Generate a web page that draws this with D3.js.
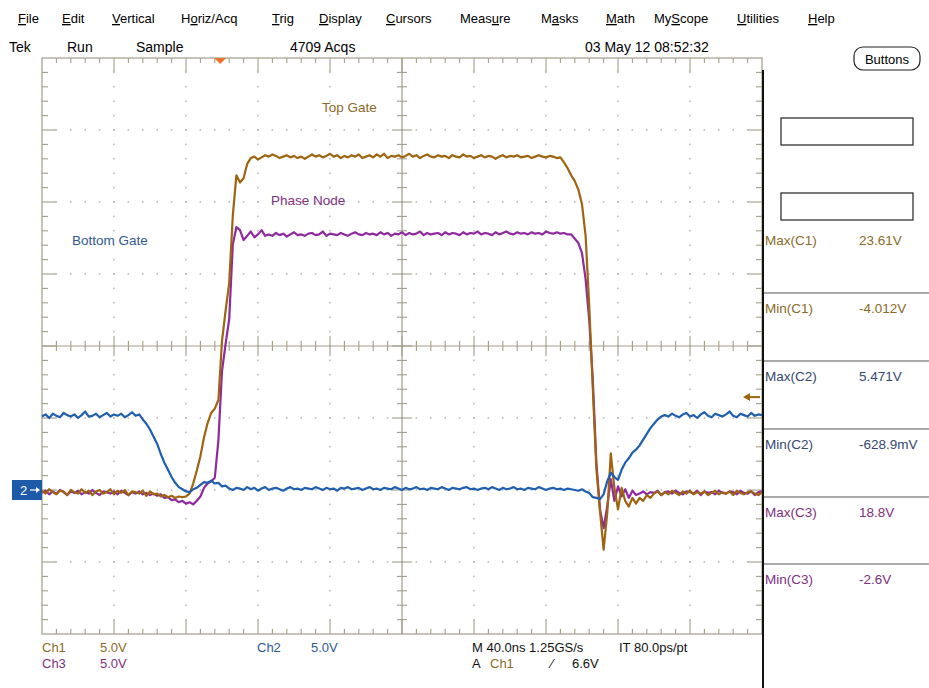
<!DOCTYPE html>
<html><head><meta charset="utf-8">
<script src="https://cdn.jsdelivr.net/npm/d3@7"></script>
<style>
html,body{margin:0;padding:0;background:#fff;}
svg{display:block;}
text{font-family:"Liberation Sans",Arial,sans-serif;}
</style></head><body><svg id="c" width="929" height="688"></svg>
<script>
// ---------------- data ----------------
const menuItems = ["File","Edit","Vertical","Horiz/Acq","Trig","Display","Cursors","Measure","Masks","Math","MyScope","Utilities","Help"];
const menuMnemonic = [0,0,0,1,0,0,0,4,1,0,2,0,0];
const statusTexts = ["Tek","Run","Sample","4709 Acqs","03 May 12 08:52:32"];
const channelNames = ["Ch1","Ch2","Ch3"];
const channelScales = ["5.0V","5.0V","5.0V"];
const traceLabels = ["Top Gate","Bottom Gate","Phase Node"];
const measureNames = ["Max(C1)","Min(C1)","Max(C2)","Min(C2)","Max(C3)","Min(C3)"];
const measureValues = ["23.61V","-4.012V","5.471V","-628.9mV","18.8V","-2.6V"];
const timebaseText = "M 40.0ns 1.25GS/s";
const intervalText = "IT 80.0ps/pt";
const triggerSource = "Ch1";
const triggerLevelV = 6.6;
const timePerDivNs = 40;
const sampleStepNs = 2;   // one value every 2 ns from the left edge

// Ch1 – Top Gate (V)
const ch1 = [
0.1,-0.1,0.2,0,-0.15,0.1,0.05,-0.2,0.15,0,
-0.1,0.2,-0.05,0.1,-0.2,0.05,0.15,-0.1,0,0.2,
-0.15,0.1,-0.05,0.15,-0.2,0.05,0,-0.1,0.1,-0.25,
0.05,-0.15,-0.1,-0.3,-0.2,-0.35,-0.25,-0.4,-0.3,-0.35,
-0.3,-0.1,0.6,1.5,2.5,3.8,4.8,5.5,5.8,6.4,
10.5,12.6,14.5,19.2,22.0,21.5,21.8,22.8,23.2,23.3,
23.1,23.25,23.4,23.3,23.45,23.35,23.2,23.3,23.4,23.25,
23.35,23.2,23.3,23.15,23.3,23.45,23.3,23.4,23.25,23.35,
23.5,23.3,23.4,23.2,23.35,23.25,23.4,23.3,23.45,23.2,
23.3,23.4,23.25,23.45,23.3,23.5,23.2,23.35,23.3,23.4,
23.25,23.35,23.5,23.3,23.4,23.2,23.35,23.45,23.3,23.25,
23.4,23.3,23.35,23.2,23.4,23.3,23.25,23.45,23.3,23.35,
23.2,23.3,23.4,23.25,23.35,23.3,23.15,23.3,23.4,23.25,
23.35,23.3,23.4,23.25,23.3,
23.35,23.2,23.3,23.4,23.3,23.25,23.35,23.3,23.2,23.25,
22.9,22.5,22.0,21.6,21.0,20.0,17.8,13.0,7.2,1.6,
-1.3,-4.0,-1.5,2.7,0.3,-1.2,0.3,-0.6,-1.0,-0.4,
-0.8,-0.4,-0.6,-0.2,-0.4,
-0.1,0.05,-0.2,0,-0.15,0.1,-0.05,-0.2,0.05,-0.1,
0.1,-0.15,0,-0.1,0.05,-0.2,-0.05,0.1,-0.15,0,
-0.1,0.05,-0.2,0.1,-0.05,-0.15,0,0.05,-0.1,-0.2,
0];

// Ch2 – Bottom Gate (V)
const ch2 = [
5.1,5.25,5.0,5.3,5.15,5.05,5.35,5.2,5.1,5.25,
5.0,5.2,5.45,5.1,5.15,5.3,5.05,5.2,5.35,5.1,
5.25,5.15,5.3,5.05,5.2,5.4,5.15,5.25,
4.9,4.6,4.2,3.7,3.2,2.5,1.9,1.4,0.9,0.5,
0.2,0.05,-0.1,-0.15,0.05,0.15,0.35,0.55,0.5,0.65,
0.45,0.5,0.25,0.3,0.1,0.0,0.15,
0.1,0.0,0.2,0.05,0.15,-0.05,0.1,0.2,0.0,0.1,
0.15,0.05,-0.05,0.1,0.2,0.05,0.1,0.0,0.15,0.1,
0.05,0.2,0.1,0.0,0.15,0.05,0.1,-0.05,0.15,0.1,
0.2,0.05,0.1,0.15,0.0,0.1,0.2,0.05,0.1,0.0,
0.15,0.1,0.05,0.2,0.1,0.0,0.15,0.05,0.1,0.2,
0.05,0.1,0.0,0.15,0.1,0.05,0.2,0.1,0.0,0.15,
0.1,0.05,0.15,0.2,0.05,0.1,0.0,0.1,0.15,0.05,
0.2,0.1,0.0,0.15,0.05,0.1,0.2,0.05,0.1,0.0,
0.15,0.1,0.05,0.2,0.1,0.0,0.1,0.15,0.05,0.1,
0.0,0.1,0.05,0.0,-0.05,0.05,-0.1,
-0.2,-0.5,-0.55,-0.63,-0.3,0.6,1.2,0.9,0.7,1.4,
1.9,2.2,2.6,2.8,3.1,3.5,3.9,4.3,4.6,4.9,
5.1,
5.2,5.1,5.3,5.15,5.05,5.25,5.35,5.1,5.2,5.0,
5.25,5.4,5.15,5.05,5.3,5.2,5.1,5.25,5.45,5.15,
5.05,5.3,5.2,5.1,5.35,5.15,5.25,5.2];

// Ch3 – Phase Node (V)
const ch3 = [
-0.05,0.1,-0.15,0.05,-0.1,0.15,0,-0.2,0.05,-0.05,
0.1,-0.15,0,-0.1,0.15,-0.05,-0.2,0.05,0,-0.1,
0.05,-0.15,0.1,-0.05,-0.2,0,-0.1,0.05,-0.15,-0.05,
-0.2,-0.1,-0.25,-0.15,
-0.4,-0.35,-0.55,-0.5,-0.7,-0.6,-0.8,-0.7,-0.85,-0.6,
-0.3,0.3,0.6,0.75,1.0,3.6,8.4,10.3,12.0,17.2,
18.4,18.2,17.5,17.8,18.1,17.7,17.9,18.2,17.8,
17.9,17.8,18.0,17.85,17.95,17.75,17.9,18.05,17.85,17.9,
17.8,17.95,18.0,17.85,17.9,18.1,17.8,17.95,17.9,17.85,
18.0,17.9,17.8,17.95,18.05,17.9,17.85,18.0,17.9,17.95,
17.85,18.05,17.9,18.0,17.8,17.95,17.9,18.05,17.85,18.0,
17.9,17.95,18.1,17.85,18.0,17.9,17.95,18.0,17.85,18.05,
17.9,18.0,17.95,17.85,18.05,17.9,18.0,17.95,18.1,17.9,
18.0,17.95,17.85,18.05,17.9,18.0,18.1,17.95,17.9,18.05,
17.95,18.0,17.9,18.05,17.95,18.0,17.9,18.1,18.0,17.95,
18.05,17.95,18.0,17.9,
17.9,17.6,17.3,16.6,14.8,12.0,7.8,2.0,-1.2,-2.5,
-1.0,0.9,-0.6,0.4,-0.3,0.2,-0.4,0.1,-0.2,
-0.1,0.05,-0.15,0,-0.05,0.1,-0.2,0,0.05,-0.1,
0.1,-0.05,-0.15,0.05,0,-0.1,0.1,-0.2,0.05,-0.05,
0,-0.15,0.1,-0.05,-0.1,0.05,0,-0.15,0.1,-0.05,
-0.1,0.05,-0.2,0,0.05];

// ---------------- layout / style ----------------
const C1 = "#9e6410", C2 = "#1f5fae", C3 = "#8f2a9e";
const T1 = "#8a6a28", T2 = "#2f5a92", T3 = "#80307e", T2m = "#34486e";
const GRID = "#a39d8a";
const svg = d3.select("#c");
const plot = {left:42, right:762, top:58, bottom:634};

const xDiv = d3.scaleLinear().domain([0,10]).range([plot.left, plot.right]);
const yDiv = d3.scaleLinear().domain([-4,4]).range([plot.bottom, plot.top]);
const x = d3.scaleLinear().domain([0, timePerDivNs*10]).range([plot.left, plot.right]);
const channels = [
  {data:ch1, pos:-2.03, vdiv:5, color:C1},
  {data:ch2, pos:-2.0,  vdiv:5, color:C2},
  {data:ch3, pos:-2.03, vdiv:5, color:C3}
];
channels.forEach(c => c.y = d3.scaleLinear().domain([(-4-c.pos)*c.vdiv, (4-c.pos)*c.vdiv]).range([plot.bottom, plot.top]));

// menu
const menuX = [18,62,112,181,272,319,386,460,541,606,654,737,808];
const menu = svg.append("g").attr("font-size",13).attr("fill","#000");
menuItems.forEach((m,i)=>{
  const t = menu.append("text").attr("x",menuX[i]).attr("y",23);
  const k = menuMnemonic[i];
  if(k>0) t.append("tspan").text(m.slice(0,k));
  t.append("tspan").style("text-decoration","underline").text(m[k]);
  t.append("tspan").text(m.slice(k+1));
});

// status row
const statusX = [9,67,136,290,585];
svg.append("g").attr("font-size",14).selectAll("text").data(statusTexts).join("text")
  .attr("x",(d,i)=>statusX[i]).attr("y",52).text(d=>d);

// Buttons
svg.append("rect").attr("x",854).attr("y",47).attr("width",66).attr("height",23).attr("rx",9)
  .attr("fill","#fff").attr("stroke","#222").attr("stroke-width",1.2);
svg.append("text").attr("x",887).attr("y",64).attr("text-anchor","middle").attr("font-size",13).text("Buttons");

// graticule dots
const g = svg.append("g");
const dots = [];
for(let k=1;k<10;k++){ if(k===5) continue; for(let m=1;m<40;m++) dots.push([xDiv(k), yDiv(-4+m/5)]); }
for(let j=-3;j<=3;j++){ if(j===0) continue; for(let n=1;n<50;n++) dots.push([xDiv(n/5), yDiv(j)]); }
g.selectAll("rect.dot").data(dots).join("rect").attr("class","dot")
  .attr("x",d=>d[0]-0.75).attr("y",d=>d[1]-0.75).attr("width",1.5).attr("height",1.5).attr("fill","#b4b2aa");

// border
g.append("rect").attr("x",plot.left).attr("y",plot.top).attr("width",plot.right-plot.left).attr("height",plot.bottom-plot.top)
  .attr("fill","none").attr("stroke",GRID).attr("stroke-width",1.2);
// center lines
g.append("line").attr("x1",xDiv(5)).attr("x2",xDiv(5)).attr("y1",plot.top).attr("y2",plot.bottom).attr("stroke",GRID).attr("stroke-width",1.2);
g.append("line").attr("x1",plot.left).attr("x2",plot.right).attr("y1",yDiv(0)).attr("y2",yDiv(0)).attr("stroke",GRID).attr("stroke-width",1.2);
const ticks = [];
for(let n=1;n<50;n++){
  const major = n%5===0, xx = xDiv(n/5);
  const L = major?14:5, C = major?10:5;
  ticks.push([xx,plot.top,xx,plot.top+L]);
  ticks.push([xx,plot.bottom,xx,plot.bottom-L]);
  ticks.push([xx,yDiv(0)-C,xx,yDiv(0)+C]);
}
for(let m=1;m<40;m++){
  const major = m%5===0, yy = yDiv(-4+m/5);
  const L = major?14:6, C = major?10:5;
  ticks.push([plot.left,yy,plot.left+L,yy]);
  ticks.push([plot.right,yy,plot.right-L,yy]);
  ticks.push([xDiv(5)-C,yy,xDiv(5)+C,yy]);
}
g.selectAll("line.tk").data(ticks).join("line").attr("class","tk")
  .attr("x1",d=>d[0]).attr("y1",d=>d[1]).attr("x2",d=>d[2]).attr("y2",d=>d[3])
  .attr("stroke",GRID).attr("stroke-width",1.1);

// traces (Ch3 first, then Ch1, then Ch2)
const order = [2,0,1];
order.forEach(ci=>{
  const c = channels[ci];
  const line = d3.line().x((d,i)=>x(i*sampleStepNs)).y(d=>c.y(d));
  svg.append("path").attr("d",line(c.data)).attr("fill","none").attr("stroke",c.color)
    .attr("stroke-width",2.2).attr("stroke-linejoin","round");
});

// trace labels
const lab = [[322,112,T1],[72,245,T2],[271,205,T3]];
svg.append("g").attr("font-size",13.5).selectAll("text").data(traceLabels).join("text")
  .attr("x",(d,i)=>lab[i][0]).attr("y",(d,i)=>lab[i][1]).attr("fill",(d,i)=>lab[i][2]).text(d=>d);

// trigger position marker (top)
const trigT = 99;
svg.append("path").attr("d",`M${x(trigT)-6},${plot.top} L${x(trigT)+6},${plot.top} L${x(trigT)},${plot.top+6} Z`).attr("fill","#f0702c");

// trigger level arrow (right)
const ty = channels[0].y(triggerLevelV);
svg.append("line").attr("x1",plot.right-2).attr("x2",plot.right-17).attr("y1",ty).attr("y2",ty).attr("stroke",C1).attr("stroke-width",2);
svg.append("path").attr("d",`M${plot.right-19},${ty} L${plot.right-12},${ty-4} L${plot.right-12},${ty+4} Z`).attr("fill",C1);

// channel 2 ground marker
const gy = channels[1].y(0);
svg.append("rect").attr("x",12).attr("y",gy-10).attr("width",30).attr("height",20).attr("fill","#1d5aa8");
svg.append("text").attr("x",20).attr("y",gy+5).attr("fill","#fff").attr("font-size",13).text("2");
svg.append("line").attr("x1",30).attr("x2",39).attr("y1",gy).attr("y2",gy).attr("stroke","#fff").attr("stroke-width",1.2);
svg.append("path").attr("d",`M${40},${gy} L${36},${gy-3} L${36},${gy+3} Z`).attr("fill","#fff");

// right panel
svg.append("line").attr("x1",763).attr("x2",763).attr("y1",70).attr("y2",688).attr("stroke","#111").attr("stroke-width",2);
[[781,118],[781,193]].forEach(r=>svg.append("rect").attr("x",r[0]).attr("y",r[1]).attr("width",132).attr("height",27)
  .attr("fill","#fff").attr("stroke","#222").attr("stroke-width",1.2));
const sepY = [293,361,429,497,564];
svg.selectAll("line.sep").data(sepY).join("line").attr("class","sep")
  .attr("x1",764).attr("x2",929).attr("y1",d=>d).attr("y2",d=>d).attr("stroke","#555").attr("stroke-width",1.2);
const mColors = [T1,T1,T2m,T2m,T3,T3];
const mY = [245,313,381,449,517,584];
const mg = svg.append("g").attr("font-size",13.5);
mg.selectAll("text.mn").data(measureNames).join("text").attr("class","mn")
  .attr("x",765).attr("y",(d,i)=>mY[i]).attr("fill",(d,i)=>mColors[i]).text(d=>d);
mg.selectAll("text.mv").data(measureValues).join("text").attr("class","mv")
  .attr("x",859).attr("y",(d,i)=>mY[i]).attr("fill",(d,i)=>mColors[i]).text(d=>d);

// bottom readouts
const bg = svg.append("g").attr("font-size",13);
bg.append("text").attr("x",42).attr("y",652).attr("fill",T1).text(channelNames[0]);
bg.append("text").attr("x",100).attr("y",652).attr("fill",T1).text(channelScales[0]);
bg.append("text").attr("x",42).attr("y",668).attr("fill",T3).text(channelNames[2]);
bg.append("text").attr("x",100).attr("y",668).attr("fill",T3).text(channelScales[2]);
bg.append("text").attr("x",257).attr("y",652).attr("fill",T2).text(channelNames[1]);
bg.append("text").attr("x",311).attr("y",652).attr("fill",T2).text(channelScales[1]);
bg.append("text").attr("x",472).attr("y",652).attr("fill","#111").text(timebaseText);
bg.append("text").attr("x",619).attr("y",652).attr("fill","#111").text(intervalText);
bg.append("text").attr("x",472).attr("y",668).attr("fill","#111").text("A");
bg.append("text").attr("x",490).attr("y",668).attr("fill",T1).text(triggerSource);
bg.append("text").attr("x",551).attr("y",668).attr("fill","#111").text("\u2215");
bg.append("text").attr("x",572).attr("y",668).attr("fill","#111").text(triggerLevelV.toFixed(1)+"V");
</script></body></html>
